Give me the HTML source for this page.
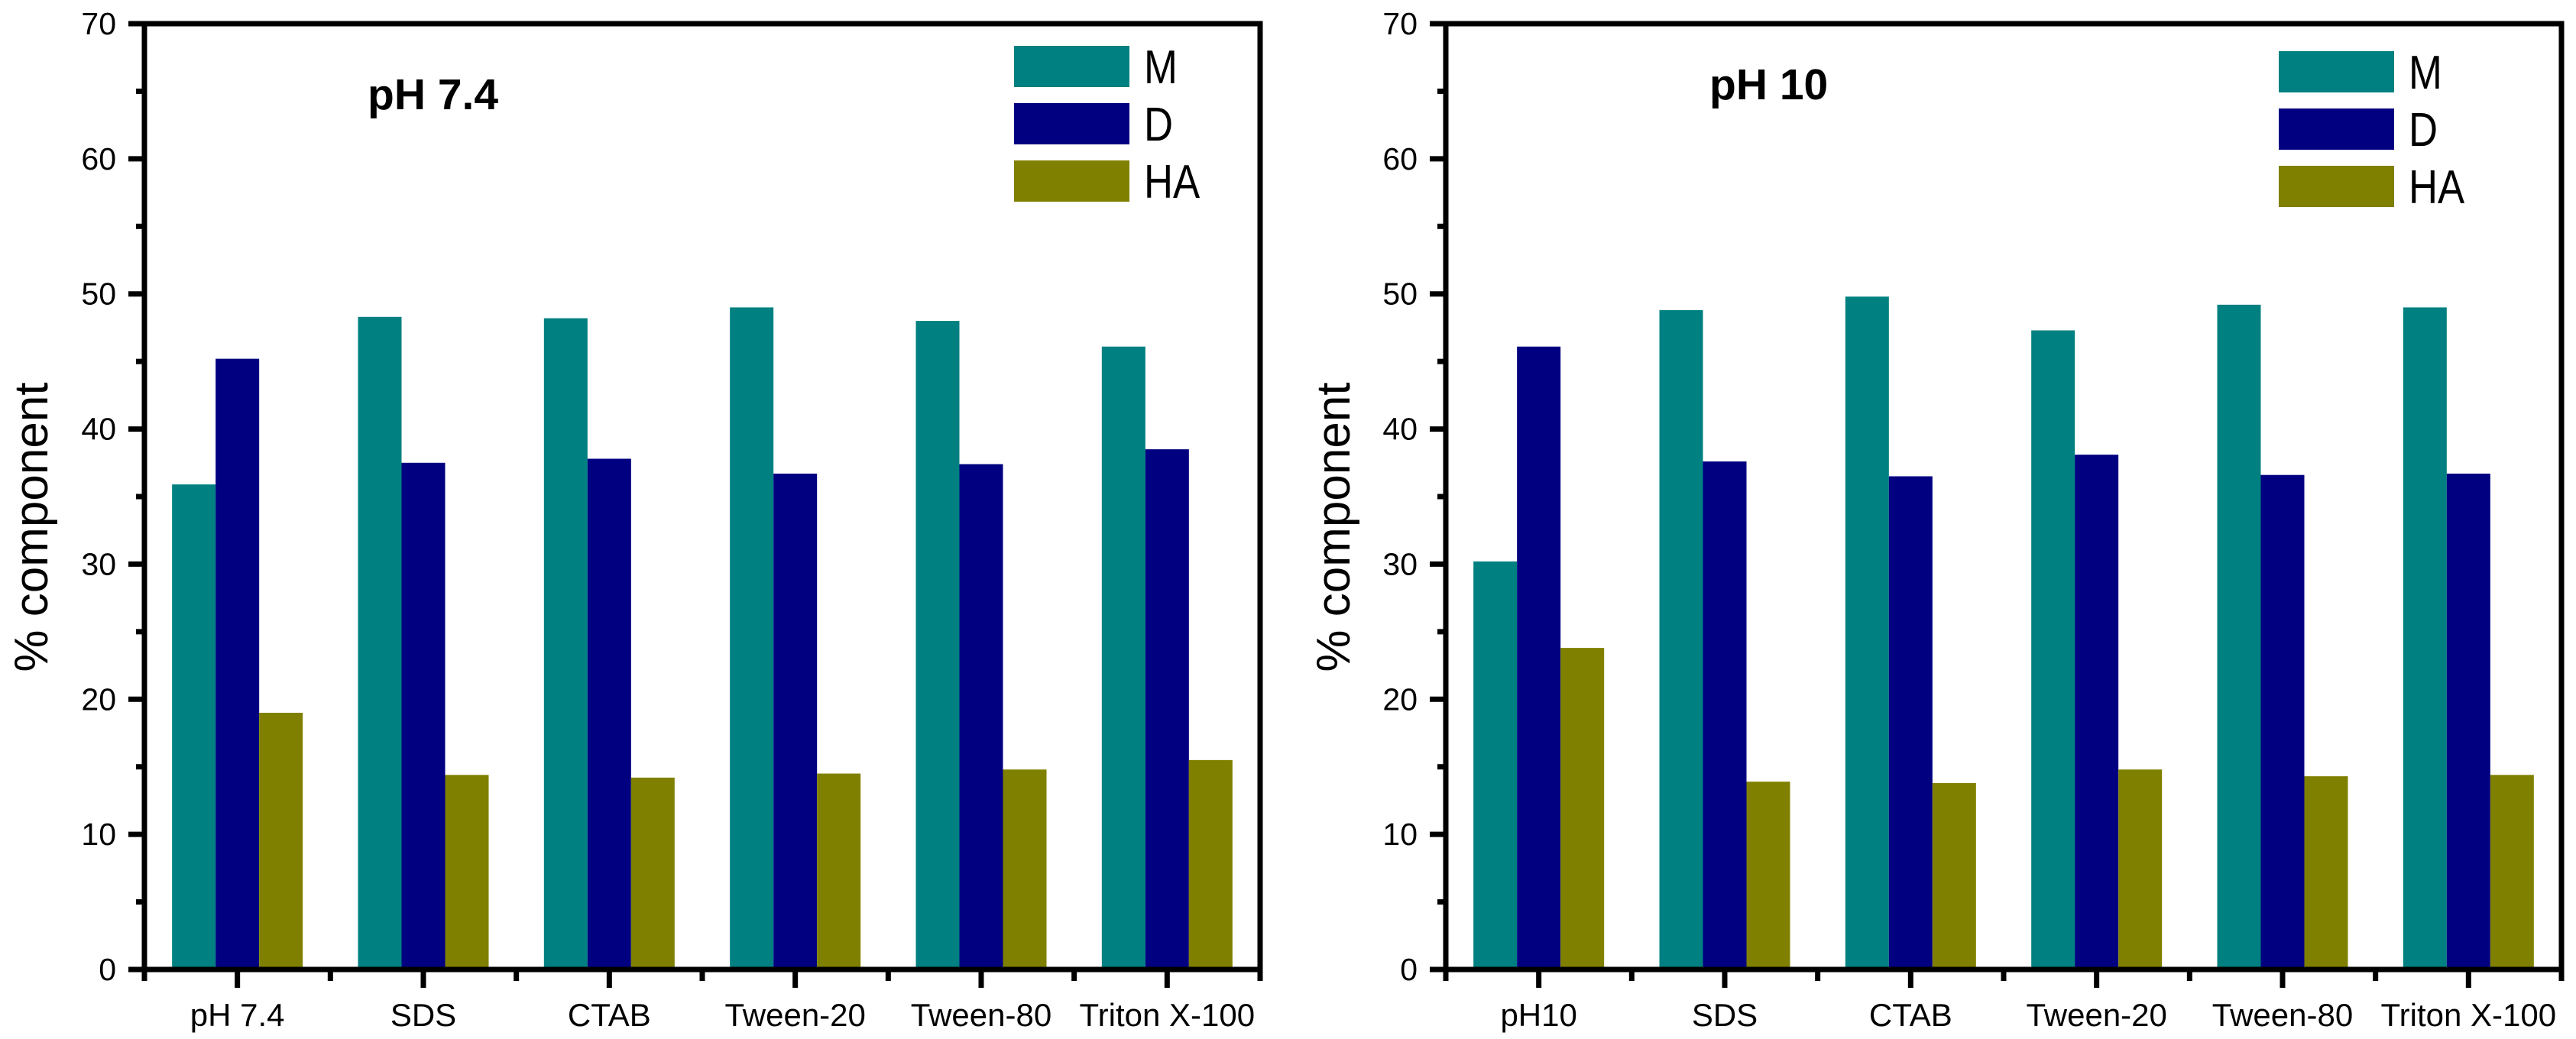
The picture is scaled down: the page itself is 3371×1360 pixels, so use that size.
<!DOCTYPE html>
<html><head><meta charset="utf-8"><style>
html,body{margin:0;padding:0;background:#fff;}
svg{display:block;font-family:"Liberation Sans",Arial,sans-serif;}
</style></head><body>
<svg id="chart" width="3371" height="1360" viewBox="0 0 3371 1360" xmlns="http://www.w3.org/2000/svg"></svg>
<script>
const categoriesLeft = ["pH 7.4","SDS","CTAB","Tween-20","Tween-80","Triton X-100"];
const categoriesRight = ["pH10","SDS","CTAB","Tween-20","Tween-80","Triton X-100"];
const seriesNames = ["M","D","HA"];
const leftM = [35.9,48.3,48.2,49.0,48.0,46.1];
const leftD = [45.2,37.5,37.8,36.7,37.4,38.5];
const leftHA = [19.0,14.4,14.2,14.5,14.8,15.5];
const rightM = [30.2,48.8,49.8,47.3,49.2,49.0];
const rightD = [46.1,37.6,36.5,38.1,36.6,36.7];
const rightHA = [23.8,13.9,13.8,14.8,14.3,14.4];
const yTicks = [0,10,20,30,40,50,60,70];

const svg = document.getElementById('chart');
const NS = 'http://www.w3.org/2000/svg';
const colors = ['#008080','#000080','#808000'];
function mk(tag, attrs, parent){const e=document.createElementNS(NS,tag);for(const k in attrs)e.setAttribute(k,attrs[k]);(parent||svg).appendChild(e);return e;}

function panel(cfg){
  const g = mk('g',{});
  
  
  const L=cfg.left, R=cfg.left+1460, T=31, B=1269;
  const y = v => B - (v/70)*(B-T);
  const n = cfg.cats.length, cw=(R-L)/n;
  const cx = i => L + cw*(i+0.5);
  const bw = 57;
  cfg.series.forEach((arr,s)=>{
    arr.forEach((v,i)=>{
      const r = mk('rect',{x:cx(i)-1.5*bw+s*bw, y:y(v), width:bw, height:B-y(v), fill:colors[s]}, g);
      
      
    });
  });
  const fr = mk('rect',{x:L,y:T,width:R-L,height:B-T,fill:'none',stroke:'#000','stroke-width':7}, g);
  
  
  for(let v=0; v<=70; v+=5){
    const major = v%10===0;
    mk('line',{x1:L-(major?21:11),x2:L,y1:y(v),y2:y(v),stroke:'#000','stroke-width':7}, g);
  }
  yTicks.forEach(v=>{
    const t = mk('text',{x:L-37,y:y(v)+14,'font-size':41,'text-anchor':'end',fill:'#000'}, g);
    t.textContent = v;
    
    
  });
  for(let i=0;i<=n;i++){ mk('line',{x1:L+cw*i,x2:L+cw*i,y1:B,y2:B+15,stroke:'#000','stroke-width':7}, g); }
  cfg.cats.forEach((c,i)=>{
    mk('line',{x1:cx(i),x2:cx(i),y1:B,y2:B+24,stroke:'#000','stroke-width':7}, g);
    const t = mk('text',{x:cx(i),y:1343,'font-size':42,'text-anchor':'middle',fill:'#000'}, g);
    t.textContent = c;
    
    
  });
  const yt = mk('text',{x:0,y:0,'font-size':62,'text-anchor':'middle',fill:'#000',transform:`translate(${cfg.titleX},690) rotate(-90)`}, g);
  yt.textContent = '% component';
  
  
  const pl = mk('text',{x:cfg.labelX,y:cfg.labelY,'font-size':57,'font-weight':'bold',fill:'#000'}, g);
  pl.textContent = cfg.label;
  
  
  seriesNames.forEach((nm,s)=>{
    const top = cfg.legY + s*75;
    const sw = mk('rect',{x:cfg.legX,y:top,width:151,height:54,fill:colors[s]}, g);
    
    
    const tx = cfg.legX+170, ty = top+49;
    const lt = mk('text',{x:0,y:0,'font-size':62,fill:'#000',transform:`translate(${tx},${ty}) scale(0.85,1)`}, g);
    lt.textContent = nm;
    
    
  });
}
panel({name:'panel-ph7-4',left:189,cats:categoriesLeft,series:[leftM,leftD,leftHA],titleX:62,label:'pH 7.4',labelX:481,labelY:143,legX:1327,legY:60});
panel({name:'panel-ph10',left:1892,cats:categoriesRight,series:[rightM,rightD,rightHA],titleX:1766,label:'pH 10',labelX:2237,labelY:130,legX:2982,legY:67});
</script>
</body></html>
